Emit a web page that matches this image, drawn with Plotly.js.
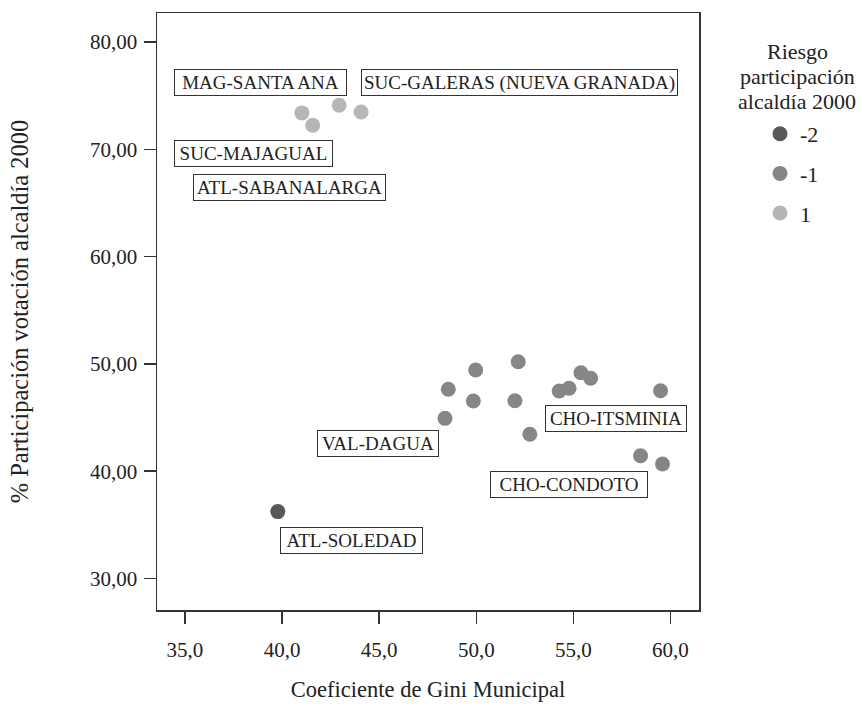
<!DOCTYPE html>
<html>
<head>
<meta charset="utf-8">
<script src="https://cdn.plot.ly/plotly-3.0.1.min.js"></script>
<style>html,body{margin:0;padding:0;background:#fff;}#chart{width:861px;height:704px;}</style>
</head>
<body>
<div id="chart"></div>
<script>
// Riesgo = -2
const giniNeg2 = [39.78];
const partNeg2 = [36.24];
// Riesgo = -1
const giniNeg1 = [48.56, 49.97, 52.16, 49.85, 51.99, 48.39, 52.76, 54.27, 54.78, 55.39, 55.89, 59.49, 58.46, 59.59];
const partNeg1 = [47.64, 49.43, 50.20, 46.55, 46.57, 44.93, 43.45, 47.48, 47.73, 49.18, 48.66, 47.50, 41.45, 40.68];
// Riesgo = 1
const giniPos1 = [41.02, 41.58, 42.94, 44.07];
const partPos1 = [73.39, 72.24, 74.11, 73.48];

const riskNames = ['-2', '-1', '1'];
const riskColors = ['#58585a', '#868686', '#b6b6b6'];
const legendTitleLines = ['Riesgo', 'participación', 'alcaldía 2000'];

// Municipality labels
const labelTexts = ['MAG-SANTA ANA', 'SUC-GALERAS (NUEVA GRANADA)', 'SUC-MAJAGUAL', 'ATL-SABANALARGA',
                    'VAL-DAGUA', 'CHO-ITSMINIA', 'CHO-CONDOTO', 'ATL-SOLEDAD'];
const labelX = [38.89, 52.25, 38.53, 40.38, 44.96, 57.18, 54.78, 43.59];
const labelY = [76.25, 76.25, 69.61, 66.44, 42.57, 44.89, 38.72, 33.54];
const labelW = [167, 311, 153, 187, 116, 136, 152, 137];

const xTickVals = [35, 40, 45, 50, 55, 60];
const xTickText = ['35,0', '40,0', '45,0', '50,0', '55,0', '60,0'];
const yTickVals = [30, 40, 50, 60, 70, 80];
const yTickText = ['30,00', '40,00', '50,00', '60,00', '70,00', '80,00'];

const FONT = '"Liberation Serif", "Times New Roman", serif';
const TXT = '#222222';

// pixel helpers for paper-relative placement of legend text
const PL = 157, PT = 13, PW = 861 - 157 - 162, PH = 704 - 13 - 94;
const px2x = p => (p - PL) / PW;
const py2y = p => 1 - (p - PT) / PH;

const series = [[giniNeg2, partNeg2], [giniNeg1, partNeg1], [giniPos1, partPos1]];
const traces = series.map((s, i) => ({
  type: 'scatter', mode: 'markers', x: s[0], y: s[1], name: riskNames[i],
  legendgroup: 'g' + i,
  marker: {color: riskColors[i], size: 15, line: {width: 0}},
  hoverinfo: 'x+y'
}));

const annotations = labelTexts.map((t, i) => ({
  x: labelX[i], y: labelY[i], xref: 'x', yref: 'y', text: t, showarrow: false,
  font: {family: FONT, size: 19, color: TXT},
  bordercolor: '#333333', borderwidth: 1, borderpad: 2, bgcolor: '#ffffff',
  width: labelW[i], height: 21, align: 'center', valign: 'middle'
}));
const titleLineY = [51, 77, 102];
legendTitleLines.forEach((t, i) => annotations.push({
  xref: 'paper', yref: 'paper', x: px2x(797), y: py2y(titleLineY[i]),
  text: t, showarrow: false, font: {family: FONT, size: 22, color: TXT},
  xanchor: 'center', yanchor: 'middle'
}));

const layout = {
  width: 861, height: 704,
  margin: {l: PL, r: 162, t: PT, b: 94},
  paper_bgcolor: '#ffffff', plot_bgcolor: '#ffffff',
  font: {family: FONT, size: 22, color: TXT},
  showlegend: true,
  legend: {
    x: px2x(760), y: py2y(113), xanchor: 'left', yanchor: 'top',
    font: {family: FONT, size: 22, color: TXT},
    traceorder: 'grouped', tracegroupgap: 8, itemwidth: 30,
    bgcolor: 'rgba(0,0,0,0)', borderwidth: 0
  },
  xaxis: {
    range: [33.56, 61.47], tickvals: xTickVals, ticktext: xTickText,
    showgrid: false, zeroline: false, showline: true, mirror: true,
    linecolor: '#333333', linewidth: 1.5,
    ticks: 'outside', ticklen: 12, tickwidth: 1.5, tickcolor: '#333333',
    ticklabelstandoff: 8,
    tickfont: {family: FONT, size: 21, color: TXT},
    title: {text: 'Coeficiente de Gini Municipal', font: {family: FONT, size: 22.5, color: TXT}, standoff: 20},
    fixedrange: true
  },
  yaxis: {
    range: [27.07, 82.7], tickvals: yTickVals, ticktext: yTickText,
    showgrid: false, zeroline: false, showline: true, mirror: true,
    linecolor: '#333333', linewidth: 1.5,
    ticks: 'outside', ticklen: 12, tickwidth: 1.5, tickcolor: '#333333',
    ticklabelstandoff: 2,
    tickfont: {family: FONT, size: 21, color: TXT},
    title: {text: '% Participación votación alcaldía 2000', font: {family: FONT, size: 24.5, color: TXT}, standoff: 54},
    fixedrange: true
  },
  annotations: annotations
};

Plotly.newPlot('chart', traces, layout, {displayModeBar: false, staticPlot: true});
</script>
</body>
</html>
